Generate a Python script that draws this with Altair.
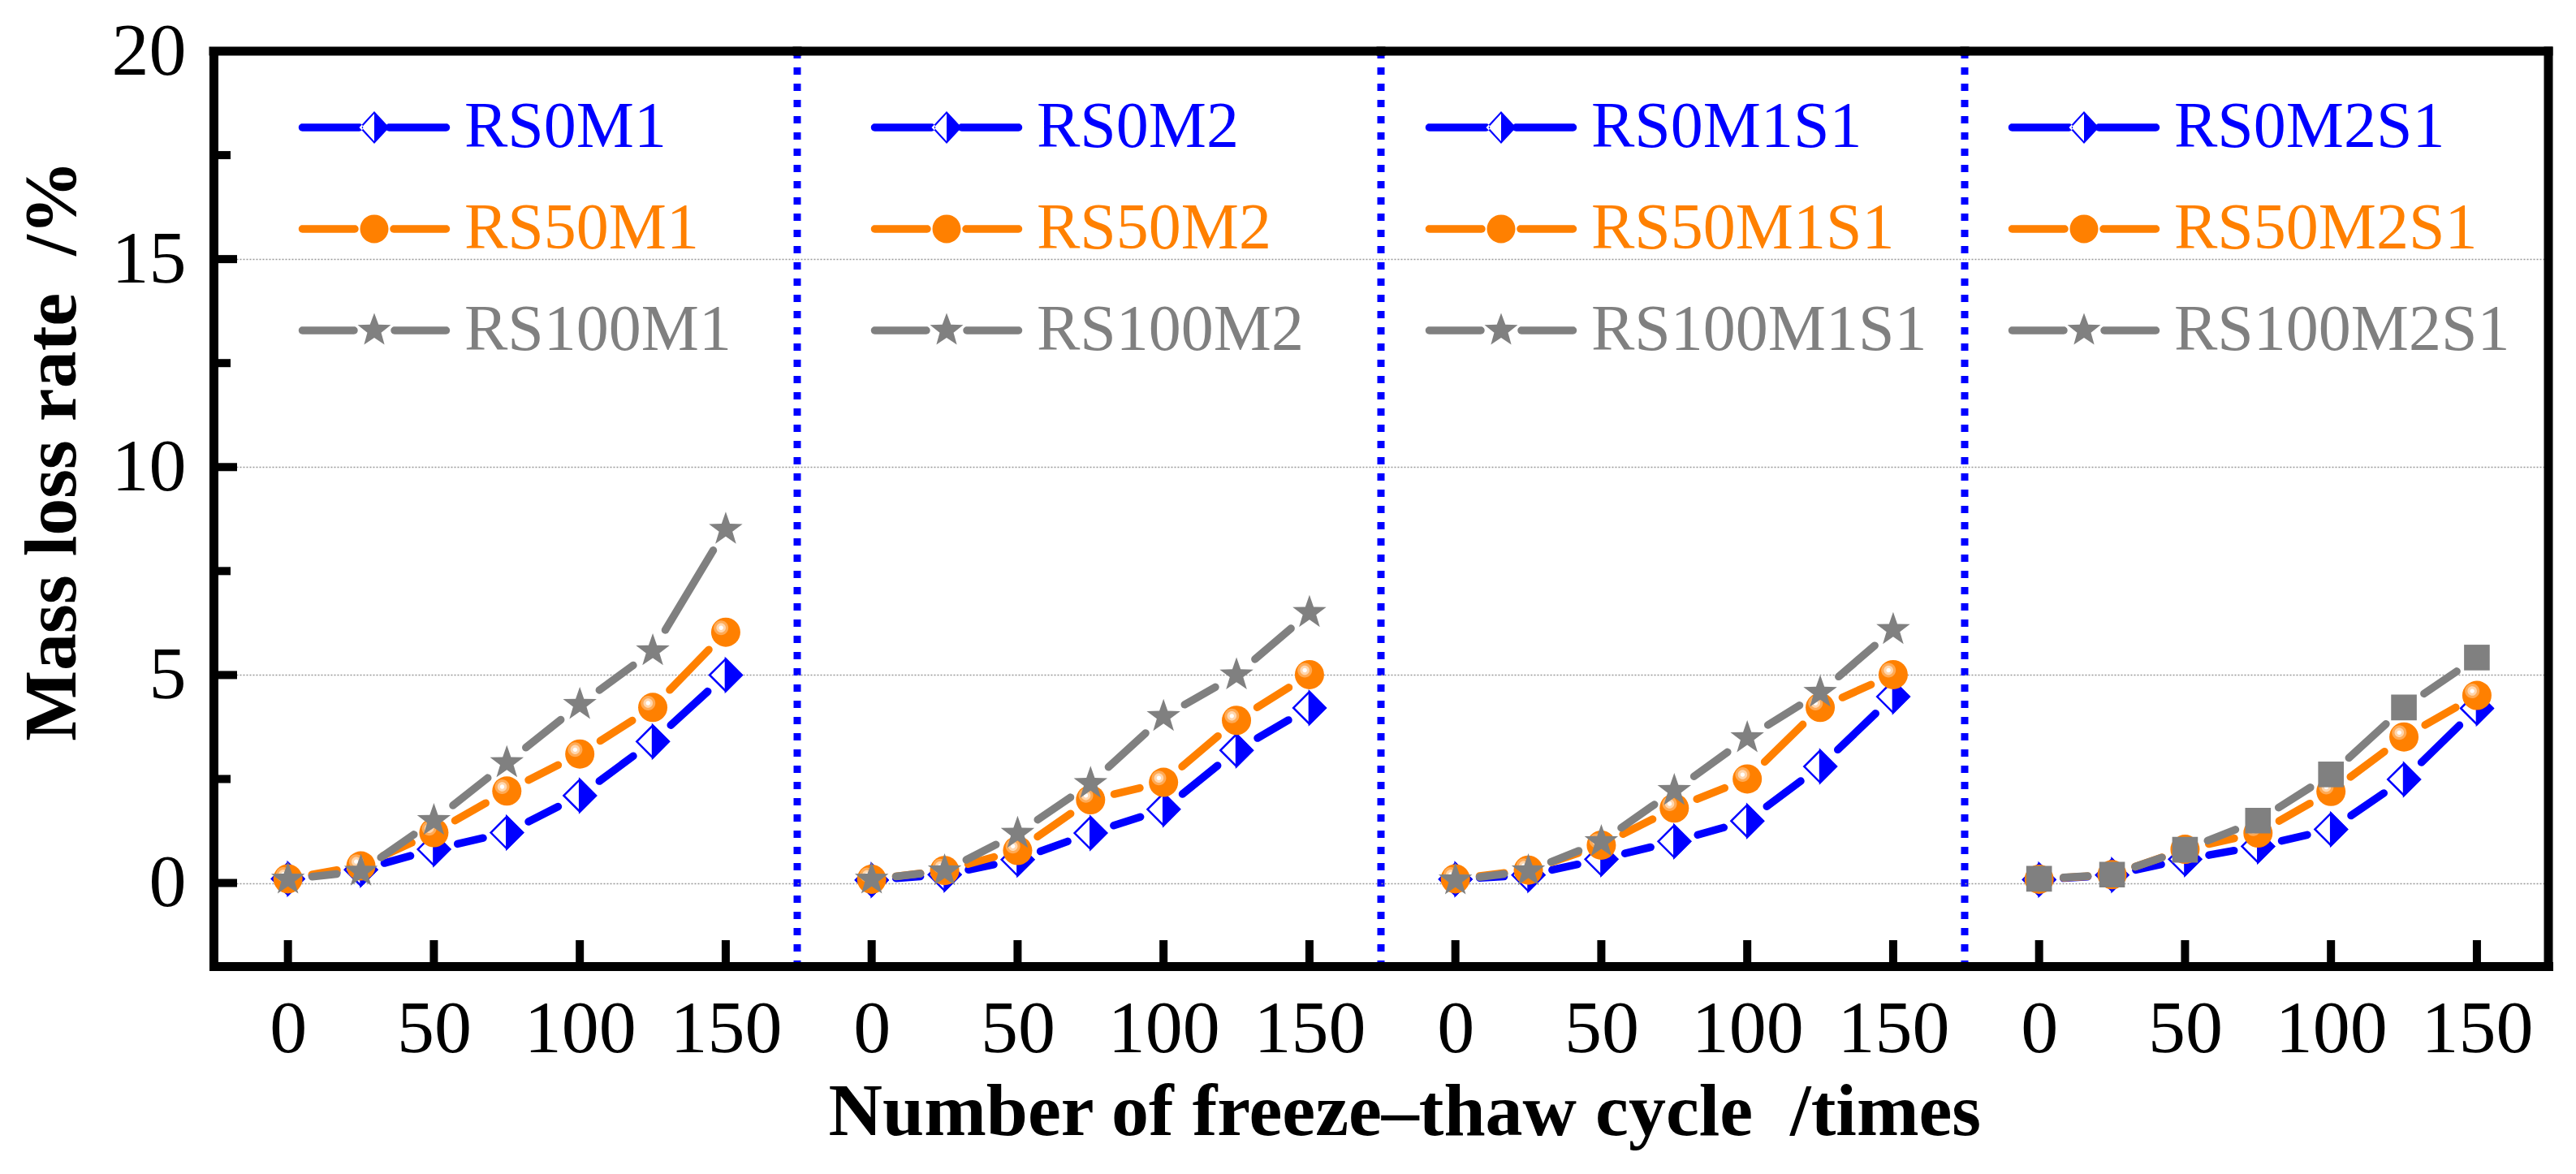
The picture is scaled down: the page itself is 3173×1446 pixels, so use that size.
import math
import altair as alt
import pandas as pd

# ---------------- data ----------------
cycles = [0, 25, 50, 75, 100, 125, 150]

RS0M1 = [0.10, 0.32, 0.81, 1.21, 2.10, 3.40, 5.00]
RS50M1 = [0.10, 0.41, 1.21, 2.21, 3.10, 4.22, 6.03]
RS100M1 = [0.09, 0.28, 1.50, 2.89, 4.29, 5.58, 8.50]

RS0M2 = [0.07, 0.20, 0.56, 1.20, 1.77, 3.19, 4.21]
RS50M2 = [0.09, 0.30, 0.78, 2.00, 2.42, 3.91, 5.01]
RS100M2 = [0.09, 0.29, 1.19, 2.39, 4.00, 5.00, 6.50]

RS0M1S1 = [0.09, 0.19, 0.57, 1.00, 1.49, 2.80, 4.48]
RS50M1S1 = [0.10, 0.31, 0.91, 1.80, 2.50, 4.22, 5.01]
RS100M1S1 = [0.07, 0.29, 0.99, 2.22, 3.49, 4.58, 6.09]

RS0M2S1 = [0.08, 0.19, 0.57, 0.88, 1.29, 2.49, 4.20]
RS50M2S1 = [0.09, 0.20, 0.81, 1.20, 2.20, 3.51, 4.51]
RS100M2S1 = [0.10, 0.20, 0.80, 1.50, 2.61, 4.22, 5.42]

panel_series = [
    ["RS0M1", "RS50M1", "RS100M1"],
    ["RS0M2", "RS50M2", "RS100M2"],
    ["RS0M1S1", "RS50M1S1", "RS100M1S1"],
    ["RS0M2S1", "RS50M2S1", "RS100M2S1"],
]
series_values = {
    "RS0M1": RS0M1, "RS50M1": RS50M1, "RS100M1": RS100M1,
    "RS0M2": RS0M2, "RS50M2": RS50M2, "RS100M2": RS100M2,
    "RS0M1S1": RS0M1S1, "RS50M1S1": RS50M1S1, "RS100M1S1": RS100M1S1,
    "RS0M2S1": RS0M2S1, "RS50M2S1": RS50M2S1, "RS100M2S1": RS100M2S1,
}

x_tick_values = [0, 50, 100, 150]
y_label_values = [0, 5, 10, 15, 20]
y_major_ticks = [0, 5, 10, 15]
y_minor_ticks = [2.5, 7.5, 12.5, 17.5]

x_title = "Number of freeze\u2013thaw cycle\u00a0 /times"
y_title = "Mass loss rate\u00a0 /%"

rows = []
for p, names in enumerate(panel_series):
    for name in names:
        for c, v in zip(cycles, series_values[name]):
            rows.append({"panel": p, "series": name, "cycle": c, "value": v})
df = pd.DataFrame(rows)
one = pd.DataFrame({"k": [0]})
xt_df = pd.DataFrame({"t": x_tick_values})
ymaj_df = pd.DataFrame({"t": y_major_ticks})
ymin_df = pd.DataFrame({"t": y_minor_ticks})

# ---------------- style ----------------
SERIF = "Liberation Serif"
BLUE, ORANGE, GRAY = "#0000FF", "#FF8000", "#808080"
W, H = 719, 1127
XDOM, YDOM = [-25.5, 174.5], [-2, 20]
PX_PER_X = W / (XDOM[1] - XDOM[0])
PX_PER_Y = H / (YDOM[1] - YDOM[0])
FRAME_W = 11
TICK_W = 10
LINE_W = 9.5
GAP_PX = 30          # line ends stop short of the symbols (gap to symbol)
TICK_FS = 92
TITLE_FS = 92
LEG_FS = 80
LEGEND_X = [148, 134, 98, 97]

xscale = alt.Scale(domain=XDOM, nice=False, zero=False)
yscale = alt.Scale(domain=YDOM, nice=False, zero=False)


def bar_path(x0, x1, h):
    # horizontal bar with round caps
    return (f"M{x0},{-h}H{x1}A{h},{h} 0 0,1 {x1},{h}H{x0}A{h},{h} 0 0,1 {x0},{-h}Z")


def circle_path(cx, cy, r):
    return (f"M{cx - r},{cy}A{r},{r} 0 1,0 {cx + r},{cy}"
            f"A{r},{r} 0 1,0 {cx - r},{cy}Z")


def star_path(R, ri, cx=0.0, cy=0.0):
    pts = []
    for i in range(10):
        ang = -math.pi / 2 + i * math.pi / 5
        rr = R if i % 2 == 0 else ri
        pts.append((cx + rr * math.cos(ang), cy + rr * math.sin(ang)))
    return "M" + "L".join(f"{x:.4f},{y:.4f}" for x, y in pts) + "Z"


# legend symbols (unit = 50 px): line + marker in one path
LH = 0.094
LEG_BLUE = (bar_path(-1.77, -0.37, LH) + bar_path(0.37, 1.77, LH)
            + "M0,-0.4L0.37,0L0,0.4Z"
            + "M0,-0.4L-0.37,0L0,0.4L0,0.34L-0.31,0L0,-0.34Z")
LEG_ORANGE = bar_path(-1.77, -0.48, LH) + bar_path(0.48, 1.77, LH) + circle_path(0, 0, 0.35)
LEG_GRAY = bar_path(-1.77, -0.5, LH) + bar_path(0.5, 1.77, LH) + star_path(0.43, 0.18)

RIGHT_HALF = "M0,-1L1,0L0,1Z"
HILITE = circle_path(-0.32, -0.3, 0.5)
HILITE2 = circle_path(-0.32, -0.3, 0.32)
HILITE_DOT = circle_path(-0.32, -0.3, 0.15)
STAR = star_path(1.0, 0.4)

label_color_expr = ("indexof(datum.label, 'RS0M') == 0 ? '#0000FF' : "
                    "(indexof(datum.label, 'RS50M') == 0 ? '#FF8000' : '#808080')")

x_axis = alt.Axis(values=x_tick_values, labelFontSize=TICK_FS, labelFont=SERIF,
                  labelColor="black", labelPadding=32, ticks=False, tickSize=0,
                  domainColor="black", domainWidth=FRAME_W, domainCap="square",
                  grid=False, title=None, labelFlush=False)

grid_props = dict(grid=True, gridColor="#999999", gridDash=[2, 2], gridWidth=1.5)


def y_axis_for(p):
    if p == 0:
        return alt.Axis(values=y_label_values, labelFontSize=TICK_FS, labelFont=SERIF,
                        labelColor="black", labelPadding=34, ticks=False, tickSize=0,
                        domainColor="black", domainWidth=FRAME_W, domainCap="square",
                        title=y_title, titleFont=SERIF, titleFontSize=TITLE_FS,
                        titleFontWeight="bold", titleColor="black", titlePadding=26,
                        titleY=H / 2 - 72, labelFlush=False, **grid_props)
    return alt.Axis(values=y_label_values, labels=False, ticks=False, tickSize=0,
                    domain=False, title=None, **grid_props)


def segments(sub):
    """Line segments between consecutive points, shortened by GAP_PX at both ends."""
    return (sub.transform_window(nc="lead(cycle)", nv="lead(value)",
                                 sort=[alt.SortField("cycle")])
            .transform_filter("datum.nc != null")
            .transform_calculate(
                L=f"sqrt(pow((datum.nc - datum.cycle) * {PX_PER_X}, 2) + "
                  f"pow((datum.nv - datum.value) * {PX_PER_Y}, 2))")
            .transform_calculate(f=f"{GAP_PX} / datum.L")
            .transform_calculate(
                xs="datum.cycle + (datum.nc - datum.cycle) * datum.f",
                ys="datum.value + (datum.nv - datum.value) * datum.f",
                xe="datum.nc - (datum.nc - datum.cycle) * datum.f",
                ye="datum.nv - (datum.nv - datum.value) * datum.f"))


def make_panel(p):
    names = panel_series[p]
    base = alt.Chart(df).transform_filter(alt.datum.panel == p)
    xa = x_axis
    ya = y_axis_for(p)
    X = alt.X("cycle:Q", scale=xscale, axis=xa)
    Y = alt.Y("value:Q", scale=yscale, axis=ya)
    layers = []

    colors = [BLUE, ORANGE, GRAY]
    for s_idx, name in enumerate(names):
        sub = base.transform_filter(alt.datum.series == name)
        col = colors[s_idx]
        layers.append(segments(sub).mark_rule(color=col, strokeWidth=LINE_W, strokeCap="round")
                      .encode(x=alt.X("xs:Q", scale=xscale, axis=xa),
                              y=alt.Y("ys:Q", scale=yscale, axis=ya),
                              x2="xe:Q", y2="ye:Q"))
        if s_idx == 0:
            layers.append(sub.mark_point(shape="diamond", filled=True, fill="white", stroke=BLUE,
                                         strokeWidth=2.5, size=1560, opacity=1).encode(x=X, y=Y))
            layers.append(sub.mark_point(shape=RIGHT_HALF, filled=True, fill=BLUE, stroke=BLUE,
                                         strokeWidth=2.5, size=1560, opacity=1).encode(x=X, y=Y))
        elif s_idx == 1:
            layers.append(sub.mark_point(shape="circle", filled=True, fill=ORANGE, size=1296,
                                         opacity=1).encode(x=X, y=Y))
            layers.append(sub.mark_point(shape=HILITE, filled=True, fill="#FFAA55", size=1296,
                                         opacity=1).encode(x=X, y=Y))
            layers.append(sub.mark_point(shape=HILITE2, filled=True, fill="#FFD6AE", size=1296,
                                         opacity=1).encode(x=X, y=Y))
            layers.append(sub.mark_point(shape=HILITE_DOT, filled=True, fill="white", size=1296,
                                         opacity=1).encode(x=X, y=Y))
        else:
            if p == 3:
                layers.append(sub.mark_point(shape="square", filled=True, fill=GRAY, size=1000,
                                             opacity=1).encode(x=X, y=Y))
            else:
                layers.append(sub.mark_point(shape=STAR, filled=True, fill=GRAY, size=1900,
                                             opacity=1).encode(x=X, y=Y))

    # legend-driving layer (clipped away from the plot)
    legend = alt.Legend(title=None, orient="none", legendX=LEGEND_X[p], legendY=44,
                        direction="vertical", symbolSize=10000, symbolStrokeWidth=0,
                        symbolOpacity=1, labelFontSize=LEG_FS, labelFont=SERIF,
                        labelColor={"expr": label_color_expr}, labelOffset=61,
                        rowPadding=35, padding=0, labelLimit=0)
    layers.append(base.mark_point(filled=True, clip=True, opacity=1).encode(
        x=X,
        y=alt.Y(datum=100, scale=yscale, axis=ya),
        color=alt.Color("series:N", scale=alt.Scale(domain=names, range=colors), legend=legend),
        shape=alt.Shape("series:N", scale=alt.Scale(domain=names, range=[LEG_BLUE, LEG_ORANGE, LEG_GRAY]),
                        legend=legend),
    ))

    # blue dotted divider at right edge (panels 1-3)
    if p < 3:
        layers.append(alt.Chart(one).mark_rule(color=BLUE, strokeWidth=9, strokeDash=[9, 11])
                      .encode(x=alt.X(datum=XDOM[1], scale=xscale, axis=xa)))
    # top frame
    layers.append(alt.Chart(one).mark_rule(color="black", strokeWidth=FRAME_W, strokeCap="square")
                  .encode(y=alt.Y(datum=YDOM[1], scale=yscale, axis=ya)))
    # right frame
    if p == 3:
        layers.append(alt.Chart(one).mark_rule(color="black", strokeWidth=FRAME_W, strokeCap="square")
                      .encode(x=alt.X(datum=XDOM[1], scale=xscale, axis=xa)))
    # inward x ticks
    layers.append(alt.Chart(xt_df).mark_rule(color="black", strokeWidth=TICK_W).encode(
        x=alt.X("t:Q", scale=xscale, axis=xa),
        y=alt.Y(datum=YDOM[0], scale=yscale, axis=ya),
        y2=alt.datum(YDOM[0] + 32 / PX_PER_Y)))
    # inward y ticks on the left frame
    if p == 0:
        layers.append(alt.Chart(ymaj_df).mark_rule(color="black", strokeWidth=TICK_W).encode(
            y=alt.Y("t:Q", scale=yscale, axis=ya),
            x=alt.X(datum=XDOM[0], scale=xscale, axis=xa),
            x2=alt.datum(XDOM[0] + 29 / PX_PER_X)))
        layers.append(alt.Chart(ymin_df).mark_rule(color="black", strokeWidth=TICK_W).encode(
            y=alt.Y("t:Q", scale=yscale, axis=ya),
            x=alt.X(datum=XDOM[0], scale=xscale, axis=xa),
            x2=alt.datum(XDOM[0] + 21 / PX_PER_X)))

    return alt.layer(*layers).properties(width=W, height=H)


chart = alt.hconcat(*[make_panel(p) for p in range(4)], spacing=0, bounds="flush").resolve_scale(
    color="independent", shape="independent"
).properties(
    title=alt.TitleParams(text=x_title, orient="bottom", anchor="middle", fontSize=TITLE_FS,
                          font=SERIF, fontWeight="bold", color="black", offset=12, dx=148),
    padding={"left": 10, "top": 9, "right": 10, "bottom": 10},
    background="white",
).configure(font=SERIF).configure_view(stroke=None).configure_legend(labelFont=SERIF)

chart.save("out.html", embed_options={"renderer": "svg", "actions": False})
